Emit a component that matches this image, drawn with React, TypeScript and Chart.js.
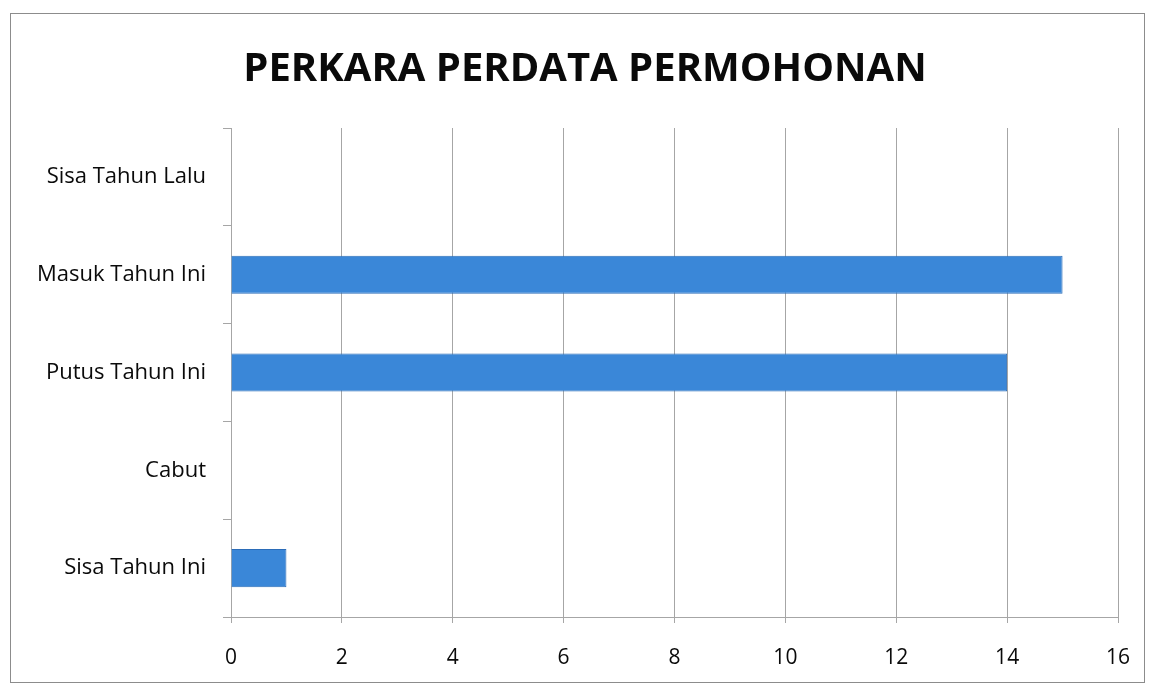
import React, { useEffect, useRef } from "react";
import { Chart, registerables } from "chart.js";

Chart.register(...registerables);

const title = "PERKARA PERDATA PERMOHONAN";
const categories = ["Sisa Tahun Lalu", "Masuk Tahun Ini", "Putus Tahun Ini", "Cabut", "Sisa Tahun Ini"];
const values = [0, 15, 14, 0, 1];
const xMin = 0;
const xMax = 16;
const xStep = 2;

const FONT = "'Open Sans', 'Noto Sans', sans-serif";

const framePlugin = {
  id: "frame",
  beforeDraw(chart: any) {
    const ctx = chart.ctx;
    ctx.save();
    ctx.fillStyle = "#ffffff";
    ctx.fillRect(0, 0, chart.width, chart.height);
    ctx.strokeStyle = "#8c8c8c";
    ctx.lineWidth = 1;
    ctx.strokeRect(10.5, 13.5, 1134, 669);
    ctx.restore();
  },
  afterDraw(chart: any) {
    const ctx = chart.ctx;
    ctx.save();
    ctx.fillStyle = "#0a0a0a";
    ctx.font = `bold 40px ${FONT}`;
    ctx.textAlign = "center";
    ctx.textBaseline = "middle";
    ctx.fillText(title, 585, 70);
    ctx.restore();
  },
};

export default function App() {
  const ref = useRef<HTMLCanvasElement>(null);
  useEffect(() => {
    const chart = new Chart(ref.current!, {
      type: "bar",
      data: {
        labels: categories,
        datasets: [
          {
            data: values,
            backgroundColor: "#3a87d8",
            borderColor: "#2b6cb8",
            borderWidth: 1,
            categoryPercentage: 1,
            barPercentage: 0.39,
          },
        ],
      },
      options: {
        indexAxis: "y",
        responsive: false,
        animation: false,
        layout: { padding: { left: 0, right: 32, top: 128, bottom: 0 } },
        plugins: { legend: { display: false }, title: { display: false }, tooltip: { enabled: false } },
        scales: {
          x: {
            type: "linear",
            min: xMin,
            max: xMax,
            ticks: { stepSize: xStep, color: "#0a0a0a", font: { family: FONT, size: 21 }, padding: 22 },
            grid: { color: "#a6a6a6", lineWidth: 1, tickLength: 6, drawTicks: true },
            border: { display: true, color: "#a6a6a6" },
            afterFit: (s: any) => { s.height = 69; s.paddingLeft = 0; s.paddingRight = 0; },
          },
          y: {
            type: "category",
            ticks: { color: "#0a0a0a", font: { family: FONT, size: 22 }, padding: 17 },
            grid: { drawOnChartArea: false, drawTicks: true, tickLength: 8, color: "#a6a6a6", offset: true },
            border: { display: true, color: "#a6a6a6" },
            afterFit: (s: any) => { s.width = 231; s.paddingTop = 0; s.paddingBottom = 0; },
          },
        },
      },
      plugins: [framePlugin],
    });
    return () => chart.destroy();
  }, []);
  return (
    <div style={{ position: "fixed", left: 0, top: 0, width: 1150, height: 686 }}>
      <canvas ref={ref} width={1150} height={686} style={{ display: "block" }} />
    </div>
  );
}
